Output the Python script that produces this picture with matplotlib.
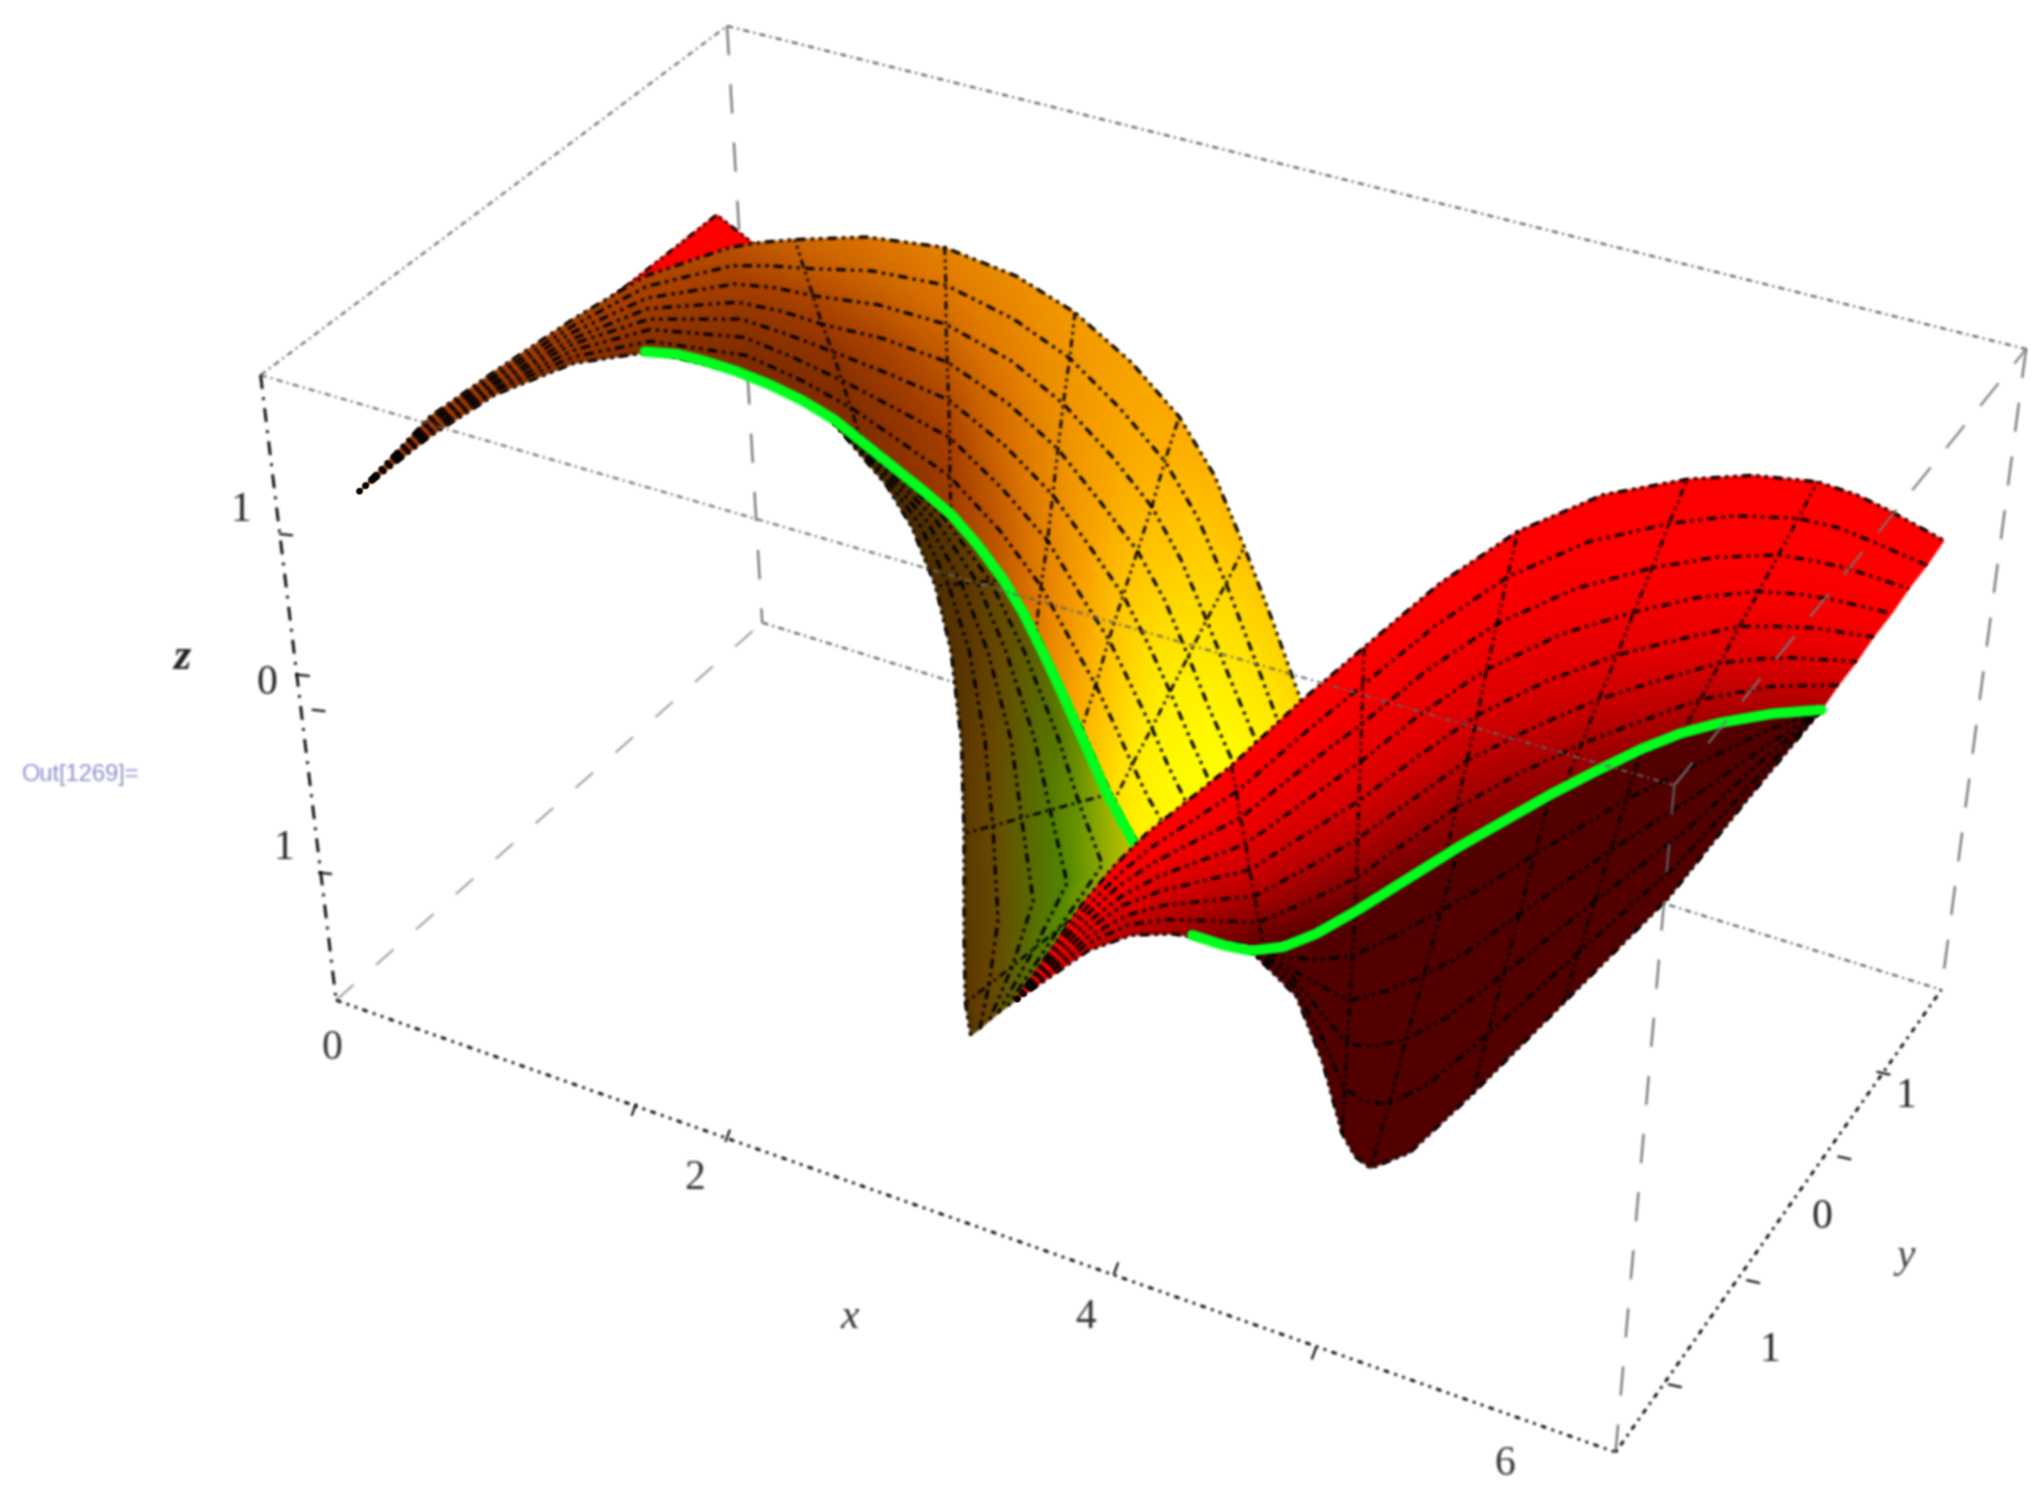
import numpy as np
from matplotlib import pyplot as plt
from matplotlib.colors import LinearSegmentedColormap

plt.rcParams['font.family'] = ['Liberation Serif', 'DejaVu Sans']

# all positions in its 1568x1154 view

'''Bounding box corners'''
box_front_bottom_left = (258, 768)
box_back_bottom_left = (585, 478)
box_back_bottom_right = (1490, 760)
box_front_bottom_right = (1240, 1115)
box_front_top_left = (200, 288)
box_back_top_left = (558, 20)
box_back_top_right = (1555, 268)
box_front_top_right = (1285, 603)

'''Left lobe, upper side. Rows run from the green curve to the back edge'''
lobe_a_x = [
    [275, 330, 380, 440, 500, 575, 620, 660, 695, 730, 765, 795, 815, 830, 843, 855, 865, 885],
    [275, 330, 380, 440, 499, 573, 615, 653, 691, 729, 767, 799, 823, 841, 856, 869, 881, 902],
    [275, 330, 380, 440, 499, 571, 610, 646, 686, 729, 769, 804, 830, 851, 868, 884, 897, 918],
    [275, 330, 380, 440, 498, 569, 605, 639, 682, 728, 771, 808, 838, 862, 881, 898, 913, 935],
    [275, 330, 380, 440, 497, 566, 600, 631, 678, 727, 774, 812, 845, 873, 894, 912, 928, 952],
    [275, 330, 380, 440, 496, 564, 595, 624, 674, 726, 776, 816, 853, 884, 906, 926, 944, 969],
    [275, 330, 380, 440, 496, 562, 590, 617, 669, 726, 778, 821, 860, 894, 919, 941, 960, 985],
    [275, 330, 380, 440, 495, 560, 585, 610, 665, 725, 780, 825, 868, 905, 932, 955, 976, 1002],
]
lobe_a_y = [
    [378, 335, 303, 279, 270, 287, 310, 335, 365, 395, 440, 485, 530, 560, 590, 615, 635, 665],
    [378, 333, 300, 274, 262, 273, 292, 313, 339, 366, 407, 450, 494, 526, 558, 587, 612, 648],
    [378, 331, 298, 269, 253, 259, 275, 292, 313, 336, 375, 415, 458, 491, 526, 559, 589, 631],
    [378, 329, 295, 264, 245, 245, 257, 270, 287, 307, 342, 380, 422, 457, 494, 531, 566, 615],
    [378, 326, 293, 260, 237, 232, 239, 249, 260, 278, 310, 345, 386, 423, 461, 504, 544, 598],
    [378, 324, 290, 255, 229, 218, 221, 227, 234, 249, 277, 310, 350, 389, 429, 476, 521, 581],
    [378, 322, 288, 250, 220, 204, 204, 206, 208, 219, 245, 275, 314, 354, 397, 448, 498, 565],
    [378, 320, 285, 245, 212, 190, 186, 184, 182, 190, 212, 240, 278, 320, 365, 420, 475, 548],
]
lobe_a_shade = [
    [.15, .15, .12, .10, .04, .00, .02, .04, .10, .20, .35, .50, .63, .75, .83, .90, .94, .98],
    [.15, .16, .14, .12, .08, .04, .04, .05, .12, .22, .36, .52, .66, .78, .86, .93, .96, .99],
    [.15, .18, .16, .15, .12, .08, .08, .08, .15, .25, .40, .55, .68, .80, .88, .95, .98, 1.0],
    [.15, .20, .18, .18, .16, .12, .12, .12, .20, .30, .45, .58, .70, .82, .89, .95, .98, 1.0],
    [.15, .20, .20, .20, .20, .18, .19, .20, .28, .36, .48, .60, .70, .80, .87, .93, .97, 1.0],
    [.15, .20, .22, .22, .24, .24, .26, .28, .36, .44, .53, .62, .70, .78, .84, .90, .94, .97],
    [.15, .20, .22, .24, .26, .28, .32, .36, .43, .50, .57, .64, .70, .75, .81, .86, .90, .93],
    [.15, .20, .22, .25, .28, .32, .37, .42, .48, .55, .60, .65, .69, .72, .76, .80, .84, .88],
]

'''Left lobe, under side. Rows run from the green curve to the left silhouette'''
under_a_x = [
    [640, 690, 730, 770, 800, 830, 850, 872, 830, 780],
    [640, 688, 724, 760, 786, 812, 828, 846, 812, 773],
    [640, 686, 718, 750, 772, 794, 806, 819, 794, 766],
    [640, 684, 712, 738, 758, 776, 784, 793, 777, 759],
    [640, 682, 706, 728, 744, 756, 762, 766, 759, 752],
    [640, 680, 700, 718, 730, 738, 740, 740, 741, 745],
]
under_a_y = [
    [322, 362, 395, 445, 500, 565, 610, 650, 700, 768],
    [323, 364, 397, 446, 500, 566, 616, 664, 714, 773],
    [323, 366, 399, 447, 500, 567, 622, 678, 728, 778],
    [324, 368, 401, 448, 500, 568, 628, 692, 742, 784],
    [324, 370, 403, 449, 500, 569, 634, 706, 756, 790],
    [325, 372, 405, 450, 500, 570, 640, 720, 770, 795],
]
under_a_shade = [
    [.10, .15, .20, .30, .45, .80, .92, 1.0, .85, .35],
    [.05, .10, .15, .25, .40, .62, .80, .88, .75, .35],
    [.03, .05, .10, .18, .32, .50, .65, .75, .62, .32],
    [.02, .04, .06, .12, .22, .36, .46, .52, .42, .25],
    [.00, .02, .04, .08, .14, .24, .30, .30, .26, .18],
    [.00, .00, .02, .05, .08, .12, .14, .14, .14, .12],
]

'''Right lobe, upper side. Rows run from the lower edge to the top edge'''
lobe_b_x = [
    [780, 835, 868, 900, 970, 1005, 1040, 1075, 1110, 1155, 1200, 1245, 1290, 1318, 1345, 1398],
    [780, 834, 866, 897, 966, 1004, 1041, 1079, 1118, 1166, 1214, 1259, 1305, 1333, 1360, 1411],
    [780, 834, 864, 894, 963, 1004, 1042, 1084, 1126, 1176, 1227, 1274, 1320, 1349, 1375, 1425],
    [780, 833, 862, 891, 959, 1003, 1043, 1088, 1134, 1187, 1241, 1288, 1335, 1364, 1390, 1438],
    [780, 832, 861, 889, 956, 1002, 1044, 1092, 1141, 1198, 1254, 1302, 1350, 1379, 1405, 1452],
    [780, 831, 859, 886, 952, 1001, 1045, 1096, 1149, 1209, 1268, 1316, 1365, 1394, 1420, 1465],
    [780, 831, 857, 883, 949, 1001, 1046, 1101, 1157, 1219, 1281, 1331, 1380, 1410, 1435, 1479],
    [780, 830, 855, 880, 945, 1000, 1047, 1105, 1165, 1230, 1295, 1345, 1395, 1425, 1450, 1492],
]
lobe_b_y = [
    [768, 730, 718, 717, 728, 718, 703, 680, 655, 630, 605, 585, 565, 557, 550, 545],
    [768, 725, 710, 706, 708, 692, 674, 647, 620, 594, 571, 554, 537, 532, 527, 526],
    [768, 720, 703, 695, 688, 666, 644, 614, 584, 559, 537, 522, 509, 506, 505, 508],
    [768, 715, 695, 684, 668, 640, 615, 581, 549, 523, 503, 491, 481, 481, 482, 489],
    [768, 710, 688, 673, 648, 615, 585, 547, 514, 487, 470, 459, 454, 456, 460, 471],
    [768, 705, 680, 662, 628, 589, 556, 514, 479, 452, 436, 428, 426, 431, 437, 452],
    [768, 700, 673, 651, 608, 563, 526, 481, 443, 416, 402, 396, 398, 405, 415, 434],
    [768, 695, 665, 640, 588, 537, 497, 448, 408, 380, 368, 365, 370, 380, 392, 415],
]
lobe_b_shade = [
    [.90, .70, .60, .50, .15, .15, .15, .22, .30, .35, .40, .42, .45, .48, .50, .55],
    [.90, .75, .68, .60, .35, .38, .40, .44, .48, .52, .56, .60, .64, .66, .68, .72],
    [.92, .80, .75, .70, .58, .60, .62, .64, .66, .70, .74, .77, .80, .82, .84, .86],
    [.95, .85, .82, .80, .74, .76, .78, .79, .80, .82, .85, .88, .90, .91, .92, .94],
    [.97, .90, .88, .86, .85, .86, .87, .88, .89, .91, .93, .95, .97, .97, .98, .98],
    [1.0, .94, .93, .92, .92, .92, .92, .93, .95, .97, 1.0, 1.0, 1.0, 1.0, 1.0, 1.0],
    [1.0, .97, .97, .97, .97, .97, .97, .98, 1.0, 1.0, 1.0, 1.0, 1.0, 1.0, 1.0, 1.0],
    [1.0, 1.0, 1.0, 1.0, 1.0, 1.0, 1.0, 1.0, 1.0, 1.0, 1.0, 1.0, 1.0, 1.0, 1.0, 1.0],
]

'''Right lobe, under side. Rows run from the green curve to the bottom silhouette'''
under_b_x = [
    [960, 985, 1010, 1040, 1080, 1120, 1150, 1190, 1260, 1320, 1360, 1398],
    [960, 987, 1011, 1038, 1072, 1106, 1137, 1178, 1248, 1312, 1356, 1398],
    [960, 989, 1012, 1036, 1064, 1093, 1124, 1166, 1236, 1304, 1352, 1398],
    [960, 991, 1013, 1034, 1056, 1079, 1111, 1154, 1224, 1296, 1348, 1398],
    [960, 993, 1014, 1032, 1048, 1066, 1098, 1142, 1212, 1288, 1344, 1398],
    [960, 995, 1015, 1030, 1040, 1052, 1082, 1130, 1200, 1280, 1340, 1398],
]
under_b_y = [
    [730, 727, 717, 700, 675, 650, 633, 610, 575, 555, 548, 545],
    [730, 735, 737, 734, 718, 699, 682, 656, 614, 582, 561, 545],
    [730, 743, 756, 768, 761, 749, 732, 702, 653, 609, 575, 545],
    [730, 749, 776, 802, 803, 798, 781, 748, 692, 636, 588, 545],
    [730, 757, 795, 836, 846, 848, 831, 794, 731, 663, 602, 545],
    [730, 765, 815, 870, 888, 897, 885, 840, 770, 690, 615, 545],
]

'''Green curves on the surface'''
green_a_x = [495, 520, 540, 565, 590, 615, 640, 665, 690, 710, 730, 750, 770, 785, 800, 815, 830, 850, 862, 872]
green_a_y = [270, 272, 277, 285, 295, 307, 322, 342, 362, 378, 395, 418, 445, 470, 500, 532, 565, 610, 632, 650]
green_b_x = [915, 940, 960, 985, 1010, 1040, 1080, 1120, 1155, 1190, 1225, 1260, 1290, 1320, 1360, 1398]
green_b_y = [718, 726, 730, 727, 717, 700, 675, 650, 630, 610, 592, 575, 563, 555, 548, 545]

'''Red corner behind the left lobe'''
corner_x = [470, 550, 582, 530]
corner_y = [228, 165, 190, 205]

'''Labels'''
x_tick_labels = ['0', '2', '4', '6']
x_label_x = [255, 533, 833, 1155]
x_label_y = [805, 905, 1012, 1125]
y_tick_labels = ['1', '0', '1']
y_label_x = [1358, 1398, 1463]
y_label_y = [1037, 935, 842]
z_tick_labels = ['1', '0', '1']
z_label_x = [185, 205, 218]
z_label_y = [392, 525, 652]

'''Small tick marks on the front edges'''
x_tick_start = [(488, 848), (560, 868), (858, 970), (1010, 1035)]
z_tick_start = [(215, 410), (228, 518), (240, 545), (245, 670)]
y_tick_start = [(1290, 1065), (1350, 985), (1420, 890), (1450, 825)]

cmap_top = LinearSegmentedColormap.from_list('top', ['#7a2a00', '#a84000', '#e07800', '#ffb000', '#ffff00'])
cmap_under = LinearSegmentedColormap.from_list('under', ['#4a2a00', '#6a4400', '#5a6a00', '#4f8800', '#c8c800'])
cmap_red = LinearSegmentedColormap.from_list('red', ['#3a0000', '#a00000', '#ff0000'])

MESH = (0, (1, 1.6, 1, 1.6, 3, 1.6))
PAD = 5


def soften(img, dpi):
    '''The reference is a blown up low resolution picture, so blur every artist a little'''
    img = np.pad(img, ((PAD, PAD), (PAD, PAD), (0, 0)))
    alpha = img[..., 3:]
    rgb = img[..., :3] * alpha
    for _ in range(2):
        for axis in (0, 1):
            rgb = (rgb + np.roll(rgb, 1, axis) + np.roll(rgb, -1, axis)) / 3
            alpha = (alpha + np.roll(alpha, 1, axis) + np.roll(alpha, -1, axis)) / 3
    rgb = rgb / np.maximum(alpha, 1e-4)
    return np.concatenate([np.clip(rgb, 0, 1), alpha], axis=2), -PAD, -PAD


def edge(ax, a, b, style, color, lw=1.5, z=1):
    ax.plot([a[0], b[0]], [a[1], b[1]], ls=style, color=color, lw=lw, zorder=z)


def patch(ax, xs, ys, shade, cmap, z, cols=()):
    xs = np.array(xs, float)
    ys = np.array(ys, float)
    ax.pcolormesh(xs, ys, np.array(shade, float), shading='gouraud', cmap=cmap,
                  vmin=0, vmax=1, zorder=z)
    for r in range(xs.shape[0]):
        ax.plot(xs[r], ys[r], ls=MESH, color='black', lw=2.3, zorder=z + .1)
    for c in cols:
        ax.plot(xs[:, c], ys[:, c], ls=MESH, color='black', lw=2, zorder=z + .1)


fig = plt.figure(figsize=(20.43, 15.03), dpi=100)
ax = fig.add_axes([0, 0, 1, 1])
ax.set_xlim(0, 1568)
ax.set_ylim(1154, 0)
ax.axis('off')

# back of the box goes under the surface
edge(ax, box_back_top_left, box_back_top_right, (0, (3, 2, 1, 2)), '#555555')
edge(ax, box_front_top_left, box_back_top_left, (0, (3, 2, 1, 2)), '#666666')
edge(ax, box_back_top_left, box_back_bottom_left, (0, (14, 14)), '#666666')
edge(ax, box_front_bottom_left, box_back_bottom_left, (0, (14, 18)), '#888888', lw=1.2)
edge(ax, box_back_bottom_left, box_back_bottom_right, (0, (3, 2, 1, 2)), '#555555')
edge(ax, box_back_top_right, box_back_bottom_right, (0, (14, 12)), '#666666')

ax.fill(corner_x, corner_y, color='#ff0000', zorder=2)
ax.plot(corner_x[:3], corner_y[:3], ls=MESH, color='black', lw=2, zorder=2.1)

patch(ax, lobe_a_x, lobe_a_y, lobe_a_shade, cmap_top, 3, cols=(7, 9, 11, 13, 15))
patch(ax, under_a_x, under_a_y, under_a_shade, cmap_under, 3.5, cols=(3, 6, 8))
ax.plot(green_a_x, green_a_y, color='#00ff1e', lw=7.5, zorder=4, solid_capstyle='round')
patch(ax, under_b_x, under_b_y, np.zeros((6, 12)) + .12, cmap_red, 5, cols=(3, 5, 7, 8))
patch(ax, lobe_b_x, lobe_b_y, lobe_b_shade, cmap_red, 6, cols=(4, 6, 8, 10, 12))
ax.plot(green_b_x, green_b_y, color='#00ff1e', lw=7.5, zorder=7, solid_capstyle='round')

# front of the box goes over it
edge(ax, box_front_top_left, box_front_top_right, (0, (3, 2, 1, 2)), '#666666', z=8)
edge(ax, box_front_top_right, box_back_top_right, (0, (14, 12)), '#777777', z=8)
edge(ax, box_front_top_right, box_front_bottom_right, (0, (14, 14)), '#666666', z=8)
edge(ax, box_front_top_left, box_front_bottom_left, (0, (5, 3, 1, 3)), 'black', lw=2, z=8)
edge(ax, box_front_bottom_left, box_front_bottom_right, (0, (2, 2, 1, 2, 1, 2)), 'black', lw=2, z=8)
edge(ax, box_front_bottom_right, box_back_bottom_right, (0, (1, 2, 2, 2)), 'black', lw=2, z=8)

for p in x_tick_start:
    ax.plot([p[0], p[0] - 3], [p[1], p[1] + 8], color='black', lw=1.5, zorder=8)
for p in z_tick_start:
    ax.plot([p[0], p[0] + 9], [p[1], p[1] + 1], color='black', lw=1.5, zorder=8)
for p in y_tick_start:
    ax.plot([p[0], p[0] - 9], [p[1], p[1] - 2], color='black', lw=1.5, zorder=8)

for t, x, y in zip(x_tick_labels, x_label_x, x_label_y):
    ax.text(x, y, t, fontsize=30, ha='center', va='center', color='#333333')
for t, x, y in zip(y_tick_labels, y_label_x, y_label_y):
    ax.text(x, y, t, fontsize=30, ha='center', va='center', color='#222222')
for t, x, y in zip(z_tick_labels, z_label_x, z_label_y):
    ax.text(x, y, t, fontsize=30, ha='center', va='center', color='#222222')
ax.text(652, 1012, 'x', fontsize=30, style='italic', ha='center', va='center', color='#333333')
ax.text(1463, 965, 'y', fontsize=30, style='italic', ha='center', va='center', color='#444444')
ax.text(140, 505, 'z', fontsize=32, style='italic', weight='bold', ha='center', va='center', color='#222222')
ax.text(62, 595, 'Out[1269]=', fontsize=17, family='Liberation Sans', ha='center', va='center', color='#8f8fd0')

for artist in ax.get_children():
    if artist not in (ax.patch, ax.xaxis, ax.yaxis) and artist not in ax.spines.values():
        artist.set_agg_filter(soften)

fig.savefig('out.png', dpi=100)
